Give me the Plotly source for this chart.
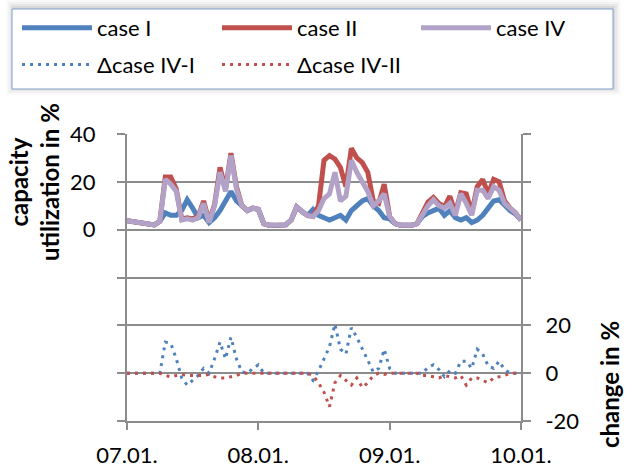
import plotly.graph_objects as go

# Hourly values, 07.01. 00:00 to 10.01. 00:00
hours = list(range(73))

case_1 = [3.7, 3.3, 2.9, 2.5, 2.2, 2.0, 3.5, 7, 6, 6, 8, 12.5, 9, 5, 6, 3, 5, 8, 12, 16, 12, 10, 8, 9,
          8.5, 2.5, 1.8, 1.7, 1.7, 2, 4, 9.5, 7.5, 6, 8.5, 6, 5, 4, 5, 6, 4, 8, 10, 12, 13, 10, 8, 5,
          4.5, 2.5, 1.8, 1.8, 1.8, 2.5, 5.5, 7, 8, 9, 6, 8, 5, 4, 5, 3, 4, 6, 9, 12, 12.5, 10, 8, 6.5,
          4]
case_2 = [3.7, 3.3, 2.9, 2.5, 2.2, 2.0, 3.5, 22, 22, 17, 4.5, 5, 4.5, 5.5, 12, 3.5, 10.5, 26, 17, 32, 18, 10, 8, 9,
          8.5, 2.5, 1.8, 1.7, 1.7, 2, 4, 9.5, 7.5, 6, 5.5, 10, 29, 31, 29.5, 26, 18, 34, 30, 28, 24, 12, 11, 19,
          5.5, 2.5, 1.8, 1.8, 1.8, 2.5, 7, 11.5, 13.5, 11, 9.5, 14, 7, 15.5, 15, 7, 18, 21, 15, 21, 20, 12, 9, 7,
          4]
case_4 = [3.7, 3.3, 2.9, 2.5, 2.2, 2.0, 3.5, 21, 19, 16, 4, 4.5, 4, 5, 11, 3, 10, 24, 16, 31, 17, 10, 8, 9,
          8.5, 2.5, 1.8, 1.7, 1.7, 2, 4, 9.5, 7.5, 6, 5.5, 8, 13, 15, 24, 12, 14, 29, 24, 20, 16, 10, 12, 15,
          5.5, 2.5, 1.8, 1.8, 1.8, 2.5, 6, 10, 12.5, 10, 9, 11, 6, 15, 11, 6, 16.5, 16.5, 13, 18, 16.5, 11, 9, 7,
          4]
delta_4_1 = [0, 0, 0, 0, 0, 0, 0, 13, 12.5, 6, -2, -5, -3, -1, 2, 0, 6, 13, 6, 15, 6, 0.5, 0, 2,
             3.5, 0, 0, 0, 0, 0, 0, 0, 0, 0, -3, 1, 6, 11, 20.5, 10, 8, 19, 15, 10, 5, 0.5, 2, 10,
             2, 0, 0, 0, 0, 0, 0, 2.5, 3.5, 1.5, -1.5, 1, 0, 5, 5, 2, 10, 8, 3, 2, 5, 1.5, 0, 0,
             0]
delta_4_2 = [0, 0, 0, 0, 0, 0, 0, -1, -1.5, -1, -0.5, -1, -1, -1, -1, -0.5, -1.5, -2, -2, -1.5, -1, 0, 0, 0,
             0, 0, 0, 0, 0, 0, 0, 0, 0, 0, -1, -4, -8, -14, -4, -1, -3, -5, -2, -6, -4, -1, 0, -0.5,
             0, 0, 0, 0, 0, 0, -1, -1, -1.5, -2, -1, -1.5, -2, -1, -5, -2, -2, -3, -4, -2, -1.5, -1, 0, 0,
             0]

day_ticks = [0, 24, 48, 72]
day_labels = ["07.01.", "08.01.", "09.01.", "10.01."]

left_ticks = [-80, -60, -40, -20, 0, 20, 40]
left_labels = ["", "", "", "", "0", "20", "40"]
right_ticks = [-20, 0, 20, 40, 60, 80, 100]
right_labels = ["-20", "0", "20", "", "", "", ""]

BLUE = "#4F81BD"
RED = "#C0504D"
LAVENDER = "#B3A2C7"
GRID = "#8C8C8C"
FONT = "Lato"

W_FIG, H_FIG = 635, 470
L, R, T, B = 127, 521, 134, 421


def px_x(p):
    return (p - L) / (R - L)


def px_y(p):
    return (B - p) / (B - T)


fig = go.Figure()
fig.add_trace(go.Scatter(x=hours, y=case_1, name="case I", mode="lines",
                         legend="legend", legendgroup="a",
                         line=dict(color=BLUE, width=5)))
fig.add_trace(go.Scatter(x=hours, y=case_2, name="case II", mode="lines",
                         legend="legend2", legendgroup="b",
                         line=dict(color=RED, width=5)))
fig.add_trace(go.Scatter(x=hours, y=case_4, name="case IV", mode="lines",
                         legend="legend3", legendgroup="c",
                         line=dict(color=LAVENDER, width=5)))
fig.add_trace(go.Scatter(x=hours, y=delta_4_1, name="\u0394case IV-I", mode="lines", yaxis="y2",
                         legend="legend", legendgroup="d",
                         line=dict(color=BLUE, width=3, dash="3px,5px")))
fig.add_trace(go.Scatter(x=hours, y=delta_4_2, name="\u0394case IV-II", mode="lines", yaxis="y2",
                         legend="legend2", legendgroup="e",
                         line=dict(color=RED, width=3, dash="3px,5px")))

axis_common = dict(showline=True, linecolor=GRID, linewidth=2, ticks="outside",
                   tickcolor=GRID, tickwidth=2, zeroline=False, automargin=False,
                   tickfont=dict(family=FONT, size=22, color="black"))


def legend_column(left_px):
    return dict(orientation="v", x=px_x(left_px), y=px_y(7), xanchor="left", yanchor="top",
                bgcolor="rgba(0,0,0,0)", borderwidth=0, itemwidth=70, tracegroupgap=5,
                font=dict(family=FONT, size=22, color="black"))


fig.update_layout(
    width=W_FIG, height=H_FIG,
    margin=dict(l=L, r=W_FIG - R, t=T, b=H_FIG - B, autoexpand=False),
    paper_bgcolor="white", plot_bgcolor="white",
    font=dict(family=FONT, size=22, color="black"),
    xaxis=dict(range=[0, 72], tickvals=day_ticks, ticktext=day_labels, ticklen=7,
               ticklabelstandoff=7, showgrid=False, **axis_common),
    yaxis=dict(range=[-80, 40], tickvals=left_ticks, ticktext=left_labels, ticklen=8,
               showgrid=True, gridcolor=GRID, gridwidth=2, ticklabelstandoff=17, **axis_common),
    yaxis2=dict(range=[-20, 100], tickvals=right_ticks, ticktext=right_labels, ticklen=8,
                overlaying="y", side="right", showgrid=False, ticklabelstandoff=10, **axis_common),
    showlegend=True,
    legend=legend_column(17),
    legend2=legend_column(217),
    legend3=legend_column(416),
)

# soft shadow and frame of the legend box
for i, op in enumerate([0.06, 0.045, 0.03, 0.02]):
    g = 2 * (i + 1)
    fig.add_shape(type="rect", xref="paper", yref="paper", layer="below",
                  x0=px_x(12 - g + 2), x1=px_x(613 + g), y0=px_y(89 + g - 2), y1=px_y(8 - g),
                  line=dict(width=0), fillcolor=f"rgba(0,0,0,{op})")
fig.add_shape(type="rect", xref="paper", yref="paper", layer="below",
              x0=px_x(12), x1=px_x(613), y0=px_y(89), y1=px_y(9),
              line=dict(width=1, color="#7F9CC8"), fillcolor="white")

fig.add_annotation(text="<b>capacity<br>utilization in %</b>", textangle=-90,
                   xref="paper", yref="paper", x=px_x(34), y=px_y(182),
                   xanchor="center", yanchor="middle", showarrow=False,
                   font=dict(family=FONT, size=24, color="black"))
fig.add_annotation(text="<b>change in %</b>", textangle=-90,
                   xref="paper", yref="paper", x=px_x(609), y=px_y(385),
                   xanchor="center", yanchor="middle", showarrow=False,
                   font=dict(family=FONT, size=24, color="black"))

fig.write_html("out.html")
